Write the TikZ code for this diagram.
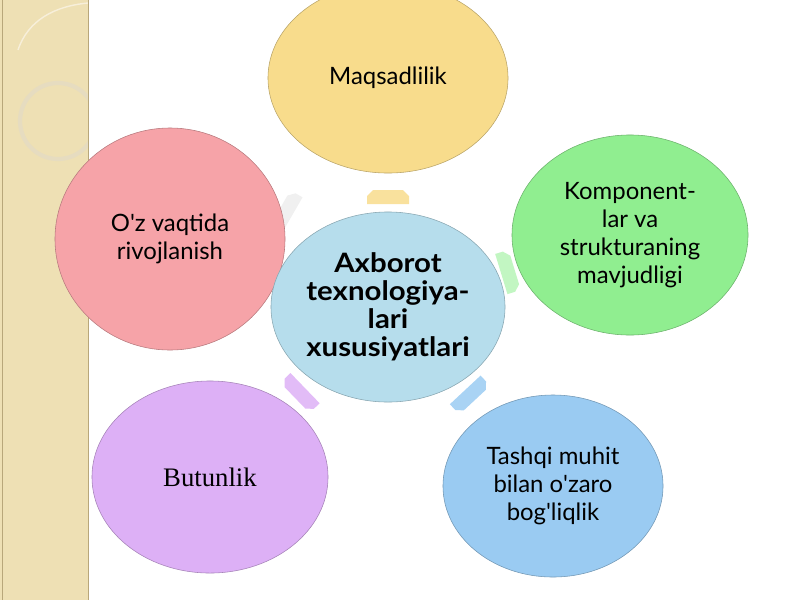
\documentclass[tikz,border=0pt]{standalone}
\usepackage{fontspec}
\setmainfont{Lato}
\newfontfamily\serifbut{Liberation Serif}
\newfontfamily\hubfont[FakeStretch=1.1]{Lato}
\usetikzlibrary{shapes.geometric,positioning}

\definecolor{stripbg}{HTML}{EEE0B4}
\definecolor{stripline}{HTML}{B8A77A}
\definecolor{ringc}{HTML}{E6DCC0}
\definecolor{hubfill}{HTML}{B6DDEC}
\definecolor{yelfill}{HTML}{F8DC8C}
\definecolor{grnfill}{HTML}{90EE90}
\definecolor{blufill}{HTML}{9ACBF2}
\definecolor{purfill}{HTML}{DDB0F6}
\definecolor{redfill}{HTML}{F6A3A8}

\tikzset{
  bubble/.style={ellipse, draw=#1!75!black, fill=#1, thin, inner sep=0pt,
    align=center, font=\fontsize{17}{20}\selectfont},
  spoke/.pic={\fill (-7,-21) -- (1,-21) -- (7,-15) -- (7,15) -- (1,21) -- (-7,21) -- cycle;},
}

\begin{document}
\begin{tikzpicture}[x=0.025cm, y=-0.025cm]
  \useasboundingbox (0,0) rectangle (800,600);
  % left strip
  \fill[stripbg] (0,0) rectangle (88,600);
  \begin{scope}
    \clip (0,0) rectangle (88,600);
    \draw[ringc, line width=3pt] (58,121) circle (38);
    \draw[white!50!stripbg, line width=1pt] (18,50) .. controls (28,20) and (55,6) .. (88,3);
  \end{scope}
  \draw[stripline] (88,0) -- (88,600);
  \draw[stripline] (2,0) -- (2,600);

  % small arrows
  \pic[fill=yelfill!85, rotate=90] (arrtop) at (388,197) {spoke};
  \pic[fill=grnfill!55, rotate=17] (arrright) at (508,272) {spoke};
  \pic[fill=blufill!85, rotate=-47] (arrdown) at (470,395) {spoke};
  \pic[fill=purfill!85, rotate=-136] (arrleft) at (300,393) {spoke};
  \pic[fill=gray!12, rotate=150] (arrup) at (286,212) {spoke};

  % circles
  \node[bubble=yelfill, minimum width=6cm, minimum height=4.75cm] (goal) at (388,78) {Maqsadlilik};
  \node[bubble=grnfill, minimum width=5.9cm, minimum height=5cm] (parts) at (630,235)
    {Komponent-\\lar va\\strukturaning\\mavjudligi};
  \node[bubble=blufill, minimum width=5.5cm, minimum height=4.55cm] (env) at (553,486)
    {Tashqi muhit\\bilan o\textquotesingle zaro\\bog\textquotesingle liqlik};
  \node[bubble=purfill, minimum width=5.9cm, minimum height=4.8cm, font=\fontsize{19}{20}\selectfont\serifbut] (whole) at (210,477)
    {Butunlik};
  \node[bubble=redfill, minimum width=5.75cm, minimum height=5.55cm] (time) at (170,239)
    {O\textquotesingle z vaqtida\\rivojlanish};
  \node[bubble=hubfill, minimum width=5.85cm, minimum height=4.75cm, inner sep=-3pt, font=\fontsize{19}{20}\selectfont\hubfont\bfseries] (hub) at (388,307)
    {Axborot\\texnologiya-\\lari\\xususiyatlari};
\end{tikzpicture}
\end{document}
